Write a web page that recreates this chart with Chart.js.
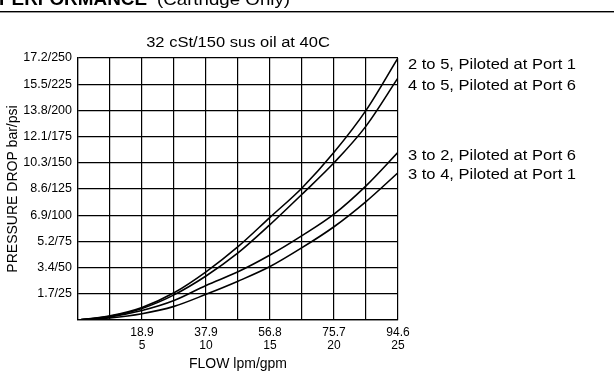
<!DOCTYPE html>
<html>
<head>
<meta charset="utf-8">
<script src="https://cdn.jsdelivr.net/npm/chart.js@4.4.0/dist/chart.umd.min.js"></script>
<style>
  html, body { margin: 0; padding: 0; background: #fff; }
  canvas { display: block; }
</style>
</head>
<body>
<canvas id="perfChart" width="614" height="373"></canvas>
<script>
// --- data (flow in gpm, pressure drop in psi) ---
const flowGpm = [0, 2.5, 5, 7.5, 10, 12.5, 15, 17.5, 20, 22.5, 25];
const p2to5 = [0, 4, 12, 26, 46, 70, 98, 126, 160, 200, 250];
const p4to5 = [0, 3.5, 11, 24, 42, 64, 91, 120, 150, 185, 231];
const p3to2 = [0, 3, 9, 18.5, 33, 46, 62, 80.5, 101, 128, 160];
const p3to4 = [0, 2, 6, 13, 24.5, 37, 51, 69, 89, 113, 140.5];

const seriesNames = [
    '2 to 5, Piloted at Port 1',
    '4 to 5, Piloted at Port 6',
    '3 to 2, Piloted at Port 6',
    '3 to 4, Piloted at Port 1'
];

// tick labels
const yTickLabels = ['', '1.7/25', '3.4/50', '5.2/75', '6.9/100', '8.6/125',
    '10.3/150', '12.1/175', '13.8/200', '15.5/225', '17.2/250'];
const xTickGpm = [5, 10, 15, 20, 25];
const xTickLpm = ['18.9', '37.9', '56.8', '75.7', '94.6'];

const FONT = '"Liberation Sans", Arial, sans-serif';

function toPoints(ys) {
    return flowGpm.map((x, i) => ({ x: x, y: ys[i] }));
}

function curve(label, ys) {
    return {
        label: label,
        data: toPoints(ys),
        borderColor: '#000',
        borderWidth: 1.6,
        pointRadius: 0,
        fill: false,
        cubicInterpolationMode: 'monotone'
    };
}

// stretched text helper (the original lettering is rather wide)
function wideText(ctx, text, x, y, font, align, sx) {
    ctx.save();
    ctx.translate(x, y);
    ctx.scale(sx, 1);
    ctx.font = font;
    ctx.textAlign = align;
    ctx.textBaseline = 'alphabetic';
    ctx.fillText(text, 0, 0);
    ctx.restore();
}

// --- header, title and curve names ---
const textPlugin = {
    id: 'extraText',
    afterDraw(chart) {
        const ctx = chart.ctx;
        const area = chart.chartArea;
        ctx.save();
        ctx.fillStyle = '#000';

        // page header (cut off at top)
        wideText(ctx, 'PERFORMANCE', -1, 5, 'bold 18px ' + FONT, 'left', 1.05);
        wideText(ctx, '(Cartridge Only)', 157, 4.5, '17px ' + FONT, 'left', 1.1);
        ctx.fillRect(0, 11, 614, 1.4);

        // chart title
        wideText(ctx, '32 cSt/150 sus oil at 40C', (area.left + area.right) / 2, 47,
            '14px ' + FONT, 'center', 1.18);

        // curve names on the right
        const nameY = [69, 90, 160, 179];
        seriesNames.forEach((name, i) => {
            wideText(ctx, name, area.right + 10, nameY[i], '14px ' + FONT, 'left', 1.18);
        });

        ctx.restore();
    }
};

const ctx = document.getElementById('perfChart').getContext('2d');

const chart = new Chart(ctx, {
    type: 'line',
    data: {
        datasets: [
            curve(seriesNames[0], p2to5),
            curve(seriesNames[1], p4to5),
            curve(seriesNames[2], p3to2),
            curve(seriesNames[3], p3to4)
        ]
    },
    options: {
        responsive: false,
        animation: false,
        devicePixelRatio: 1,
        layout: { padding: { top: 58, right: 216, left: 0, bottom: 0 } },
        plugins: {
            legend: { display: false },
            tooltip: { enabled: false }
        },
        scales: {
            x: {
                type: 'linear',
                min: 0,
                max: 25,
                afterFit: s => { s.height = 53; },
                afterBuildTicks: s => {
                    s.ticks = flowGpm.map(v => ({ value: v }));
                },
                grid: { color: '#000', lineWidth: 1.2, drawTicks: false },
                border: { color: '#000', width: 1.2 },
                ticks: {
                    color: '#000',
                    font: { family: FONT, size: 12, lineHeight: 1.1 },
                    padding: 6,
                    maxRotation: 0,
                    autoSkip: false,
                    callback: v => {
                        const i = xTickGpm.indexOf(v);
                        return i < 0 ? '' : [xTickLpm[i], String(xTickGpm[i])];
                    }
                },
                title: {
                    display: true,
                    text: 'FLOW lpm/gpm',
                    color: '#000',
                    font: { family: FONT, size: 14 },
                    padding: { top: 0, bottom: 0 }
                }
            },
            y: {
                type: 'linear',
                min: 0,
                max: 250,
                afterFit: s => { s.width = 78; },
                afterBuildTicks: s => {
                    s.ticks = yTickLabels.map((_, i) => ({ value: i * 25 }));
                },
                grid: { color: '#000', lineWidth: 1.2, drawTicks: false },
                border: { color: '#000', width: 1.2 },
                ticks: {
                    color: '#000',
                    font: { family: FONT, size: 12.5 },
                    padding: 6,
                    autoSkip: false,
                    callback: v => yTickLabels[Math.round(v / 25)]
                },
                title: {
                    display: true,
                    text: 'PRESSURE DROP bar/psi',
                    color: '#000',
                    font: { family: FONT, size: 14 },
                    padding: { top: 5, bottom: 0 }
                }
            }
        }
    },
    plugins: [textPlugin]
});
</script>
</body>
</html>
